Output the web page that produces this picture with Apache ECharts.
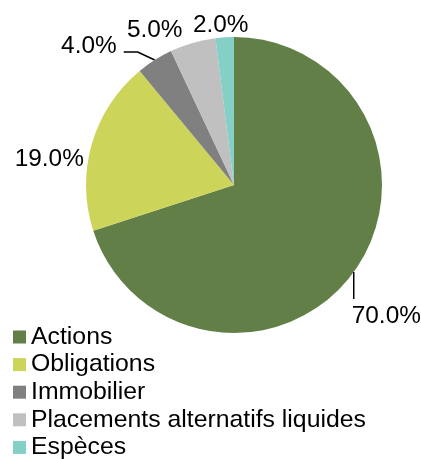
<!DOCTYPE html>
<html>
<head>
<meta charset="utf-8">
<script src="https://cdn.jsdelivr.net/npm/echarts@6/dist/echarts.min.js"></script>
<style>html,body{margin:0;padding:0;background:#fff}#c{width:421px;height:459px}</style>
</head>
<body>
<div id="c"></div>
<script>
var categories = ['Actions', 'Obligations', 'Immobilier', 'Placements alternatifs liquides', 'Espèces'];
var values = [70.0, 19.0, 4.0, 5.0, 2.0];
var colors = ['#617f47', '#ccd45a', '#808080', '#c0c0c0', '#84cfc6'];

var FONT = 'Arial, "Liberation Sans", sans-serif';
var labelOffsets = [
  {dx: -2, dy: 44, align: 'left', line: [[0, 27]]},
  {dx: -8, dy: 16, align: 'right', line: null},
  {dx: -38, dy: -14, align: 'right', line: [[-17, -8], [-31, -8]]},
  {dx: -38, dy: -13, align: 'center', line: null},
  {dx: -4, dy: -12, align: 'center', line: null}
];

var chart = echarts.init(document.getElementById('c'), null, {renderer: 'canvas'});
chart.setOption({
  animation: false,
  legend: {
    orient: 'vertical',
    left: 13,
    top: 324.5,
    height: 200,
    padding: 0,
    itemWidth: 13,
    itemHeight: 13,
    itemGap: 2.6,
    itemTextGap: 7,
    icon: 'rect',
    data: categories,
    textStyle: {fontFamily: FONT, fontSize: 24.8, color: '#000'}
  },
  series: [{
    type: 'pie',
    center: [234, 185],
    radius: [0, 148],
    startAngle: 90,
    clockwise: true,
    avoidLabelOverlap: false,
    data: categories.map(function (c, i) {
      return {name: c, value: values[i], itemStyle: {color: colors[i]}};
    }),
    label: {
      show: true,
      position: 'outside',
      formatter: function (p) { return p.value.toFixed(1) + '%'; },
      fontFamily: FONT,
      fontSize: 24.4,
      color: '#000'
    },
    labelLine: {show: true, length: 10, length2: 10, lineStyle: {color: '#000', width: 1.5}},
    labelLayout: function (params) {
      var o = labelOffsets[params.dataIndex];
      var p0 = params.labelLinePoints[0];
      var pts = [[p0[0], p0[1]], [p0[0], p0[1]]];
      if (o.line) {
        pts = [[p0[0], p0[1]]].concat(o.line.map(function (d) { return [p0[0] + d[0], p0[1] + d[1]]; }));
      }
      return {
        x: p0[0] + o.dx,
        y: p0[1] + o.dy,
        align: o.align,
        verticalAlign: 'middle',
        labelLinePoints: pts
      };
    }
  }]
});
</script>
</body>
</html>
